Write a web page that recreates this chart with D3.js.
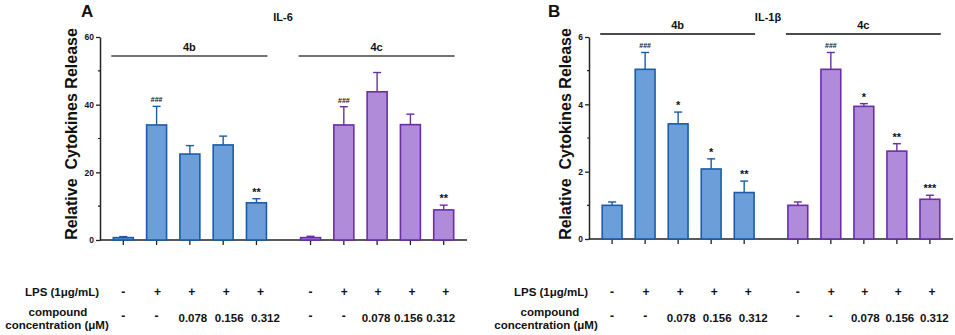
<!DOCTYPE html>
<html>
<head>
<meta charset="utf-8">
<script src="https://cdn.jsdelivr.net/npm/d3@7"></script>
<style>
  body { margin: 0; background: #fff; }
  text { font-family: Arial, "Liberation Sans", sans-serif; font-weight: bold; fill: #111; }
</style>
</head>
<body>
<svg id="chart" width="955" height="335"></svg>
<script>
// groups and table rows
var groups = ['4b', '4c'];
var lpsRow = ['-', '+', '+', '+', '+'];
var concRow = ['-', '-', '0.078', '0.156', '0.312'];

// IL-6 (panel A)
var il6Mean4b = [0.7, 34.0, 25.4, 28.1, 11.0];
var il6Err4b = [0.3, 5.5, 2.5, 2.6, 1.2];
var il6Sig4b = ['', '###', '', '', '**'];
var il6Mean4c = [0.7, 34.0, 43.8, 34.1, 8.9];
var il6Err4c = [0.4, 5.4, 5.7, 3.1, 1.4];
var il6Sig4c = ['', '###', '', '', '**'];
var il6Ticks = [0, 20, 40, 60];
var il6Minor = [10, 30, 50];

// IL-1b (panel B)
var il1Mean4b = [1.0, 5.04, 3.42, 2.08, 1.38];
var il1Err4b = [0.1, 0.5, 0.35, 0.3, 0.34];
var il1Sig4b = ['', '###', '*', '*', '**'];
var il1Mean4c = [1.0, 5.04, 3.94, 2.61, 1.18];
var il1Err4c = [0.1, 0.5, 0.08, 0.22, 0.12];
var il1Sig4c = ['', '###', '*', '**', '***'];
var il1Ticks = [0, 2, 4, 6];
var il1Minor = [1, 3, 5];

var colors = {
    '4b': {fill: '#6c9fd9', stroke: '#1b5ba8'},
    '4c': {fill: '#b08bd9', stroke: '#6a2ea6'}
};

var svg = d3.select('#chart');

function drawPanel(cfg) {
    var g = svg.append('g');

    var y = d3.scaleLinear().domain([0, cfg.ymax]).range([cfg.bottom, cfg.top]);
    var xGroup = d3.scaleBand().domain(groups).range([cfg.left, cfg.right]).paddingInner(0.04);
    var xBar = d3.scaleBand().domain(d3.range(5)).range([0, xGroup.bandwidth()]).padding(0.4);

    function cx(grp, i) { return xGroup(grp) + xBar(i) + xBar.bandwidth() / 2; }

    // y axis
    var yAxis = d3.axisLeft(y).tickValues(cfg.ticks).tickFormat(d3.format('d'))
        .tickSize(4).tickSizeOuter(0).tickPadding(2);
    var ya = g.append('g')
        .attr('transform', 'translate(' + cfg.left + ',0)')
        .call(yAxis);
    ya.select('.domain').attr('stroke', '#222').attr('stroke-width', 1.5);
    ya.selectAll('.tick line').attr('stroke', '#222').attr('stroke-width', 1.3);
    ya.selectAll('.tick text').style('font-size', '8.5px').style('font-weight', 'bold')
        .style('font-family', 'Arial, "Liberation Sans", sans-serif').attr('fill', '#111');
    g.append('g').selectAll('line').data(cfg.minor).join('line')
        .attr('x1', cfg.left - 2).attr('x2', cfg.left)
        .attr('y1', function(d) { return y(d); }).attr('y2', function(d) { return y(d); })
        .attr('stroke', '#222').attr('stroke-width', 1.2);

    // x axis baseline with ticks
    g.append('line')
        .attr('x1', cfg.left).attr('x2', cfg.right)
        .attr('y1', cfg.bottom).attr('y2', cfg.bottom)
        .attr('stroke', '#222').attr('stroke-width', 1.5);

    groups.forEach(function(grp) {
        var c = colors[grp];
        var data = cfg.series[grp];
        var bars = data.mean.map(function(m, i) {
            return {i: i, mean: m, err: data.err[i], sig: data.sig[i]};
        });

        g.append('g').selectAll('line').data(bars).join('line')
            .attr('x1', function(d) { return cx(grp, d.i); })
            .attr('x2', function(d) { return cx(grp, d.i); })
            .attr('y1', cfg.bottom).attr('y2', cfg.bottom + 5)
            .attr('stroke', '#222').attr('stroke-width', 1.3);

        // error bars (upper only)
        var eb = g.append('g').selectAll('g').data(bars).join('g');
        eb.append('line')
            .attr('x1', function(d) { return cx(grp, d.i); })
            .attr('x2', function(d) { return cx(grp, d.i); })
            .attr('y1', function(d) { return y(d.mean); })
            .attr('y2', function(d) { return y(d.mean + d.err); })
            .attr('stroke', c.stroke).attr('stroke-width', 1.4);
        eb.append('line')
            .attr('x1', function(d) { return cx(grp, d.i) - 4; })
            .attr('x2', function(d) { return cx(grp, d.i) + 4; })
            .attr('y1', function(d) { return y(d.mean + d.err); })
            .attr('y2', function(d) { return y(d.mean + d.err); })
            .attr('stroke', c.stroke).attr('stroke-width', 1.4);

        g.append('g').selectAll('rect').data(bars).join('rect')
            .attr('x', function(d) { return xGroup(grp) + xBar(d.i); })
            .attr('y', function(d) { return y(d.mean); })
            .attr('width', xBar.bandwidth())
            .attr('height', function(d) { return cfg.bottom - y(d.mean); })
            .attr('fill', c.fill).attr('stroke', c.stroke).attr('stroke-width', 1.6);

        // significance marks
        g.append('g').selectAll('text').data(bars.filter(function(d) { return d.sig; })).join('text')
            .attr('x', function(d) { return cx(grp, d.i); })
            .attr('y', function(d) { return y(d.mean + d.err) - (d.sig[0] === '#' ? 4 : 3); })
            .attr('text-anchor', 'middle')
            .style('font-size', function(d) { return d.sig[0] === '#' ? '7px' : '11px'; })
            .attr('fill', '#333')
            .text(function(d) { return d.sig; });

        // group line and label
        var x1 = xGroup(grp) + xBar(0) - 2;
        var x2 = xGroup(grp) + xBar(4) + xBar.bandwidth() + 1;
        g.append('line')
            .attr('x1', x1).attr('x2', x2)
            .attr('y1', cfg.groupY).attr('y2', cfg.groupY)
            .attr('stroke', cfg.groupColor).attr('stroke-width', 1.6);
        g.append('text')
            .attr('x', (x1 + x2) / 2).attr('y', cfg.groupY - 5)
            .attr('text-anchor', 'middle').style('font-size', '11px')
            .text(grp);

        // table below
        g.append('g').selectAll('text').data(lpsRow).join('text')
            .attr('x', function(d, i) { return cx(grp, i) + cfg.lpsShift[grp] * i; })
            .attr('y', 296)
            .attr('text-anchor', 'middle').style('font-size', '12px')
            .text(function(d) { return d; });
        g.append('g').selectAll('text').data(concRow).join('text')
            .attr('x', function(d, i) { return cx(grp, i) + (i > 1 ? cfg.concShift[grp] * (i - 1) : 0); })
            .attr('y', function(d) { return d === '-' ? 320 : 322; })
            .attr('text-anchor', 'middle').style('font-size', function(d) { return d === '-' ? '12px' : '11.5px'; })
            .text(function(d) { return d; });
    });

    // panel letter, title, y label
    g.append('text').attr('x', cfg.letterX).attr('y', 17)
        .style('font-size', '17px').text(cfg.letter);
    g.append('text').attr('x', cfg.titleX).attr('y', 21)
        .attr('text-anchor', 'middle').style('font-size', '11px').text(cfg.title);
    g.append('text')
        .attr('transform', 'translate(' + cfg.ylabX + ',134) rotate(-90)')
        .attr('text-anchor', 'middle').style('font-size', '16px')
        .style('white-space', 'pre')
        .text('Relative  Cytokines Release');

    // row labels
    g.append('text').attr('x', cfg.rowLab[0]).attr('y', 296)
        .attr('text-anchor', 'middle').style('font-size', '11.5px').text('LPS (1μg/mL)');
    g.append('text').attr('x', cfg.rowLab[1]).attr('y', 316)
        .attr('text-anchor', 'middle').style('font-size', '11.5px').text('compound');
    g.append('text').attr('x', cfg.rowLab[2]).attr('y', 329)
        .attr('text-anchor', 'middle').style('font-size', '11.5px').text('concentration (μM)');
}

drawPanel({
    letter: 'A', letterX: 81, title: 'IL-6', titleX: 283,
    left: 100, right: 467, top: 37, bottom: 240, ymax: 60,
    ticks: il6Ticks, minor: il6Minor, ylabX: 77,
    groupY: 56, groupColor: '#444', rowLab: [62, 58, 57],
    lpsShift: {'4b': 1, '4c': 0.5},
    concShift: {'4b': 3, '4c': -1},
    series: {
        '4b': {mean: il6Mean4b, err: il6Err4b, sig: il6Sig4b},
        '4c': {mean: il6Mean4c, err: il6Err4c, sig: il6Sig4c}
    }
});

drawPanel({
    letter: 'B', letterX: 548, title: 'IL-1β', titleX: 768,
    left: 589, right: 953, top: 37, bottom: 239, ymax: 6,
    ticks: il1Ticks, minor: il1Minor, ylabX: 571,
    groupY: 34, groupColor: '#111', rowLab: [551, 550, 546],
    lpsShift: {'4b': 1, '4c': 0.5},
    concShift: {'4b': 3, '4c': 1.5},
    series: {
        '4b': {mean: il1Mean4b, err: il1Err4b, sig: il1Sig4b},
        '4c': {mean: il1Mean4c, err: il1Err4c, sig: il1Sig4c}
    }
});
</script>
</body>
</html>
